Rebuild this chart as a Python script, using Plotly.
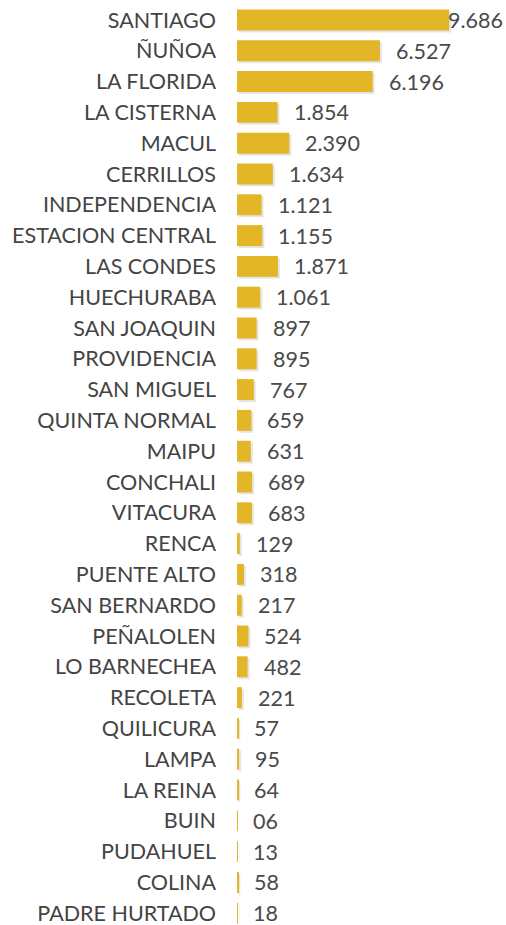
import plotly.graph_objects as go

comunas = ["SANTIAGO", "ÑUÑOA", "LA FLORIDA", "LA CISTERNA", "MACUL", "CERRILLOS",
           "INDEPENDENCIA", "ESTACION CENTRAL", "LAS CONDES", "HUECHURABA", "SAN JOAQUIN",
           "PROVIDENCIA", "SAN MIGUEL", "QUINTA NORMAL", "MAIPU", "CONCHALI", "VITACURA",
           "RENCA", "PUENTE ALTO", "SAN BERNARDO", "PEÑALOLEN", "LO BARNECHEA", "RECOLETA",
           "QUILICURA", "LAMPA", "LA REINA", "BUIN", "PUDAHUEL", "COLINA", "PADRE HURTADO"]
valores = [9686, 6527, 6196, 1854, 2390, 1634, 1121, 1155, 1871, 1061, 897, 895, 767,
           659, 631, 689, 683, 129, 318, 217, 524, 482, 221, 57, 95, 64, 6, 13, 58, 18]
etiquetas = ["9.686", "6.527", "6.196", "1.854", "2.390", "1.634", "1.121", "1.155",
             "1.871", "1.061", "897", "895", "767", "659", "631", "689", "683", "129",
             "318", "217", "524", "482", "221", "57", "95", "64", "06", "13", "58", "18"]

GOLD = "#E3B627"
FONT = "Lato, 'Open Sans', sans-serif"
FS = 21.5

X_MAX = 12283
Y_RANGE = [29.383, -0.649]
PX_X = X_MAX / 269.0      # data units per pixel (x)
PX_Y = 30.8               # pixels per category (y)
SH = 2.0                  # shadow offset, px

fig = go.Figure()
# soft drop shadow (main axes, shifted ranges)
fig.add_trace(go.Bar(
    x=valores, y=comunas, orientation="h", xaxis="x", yaxis="y",
    marker=dict(color="rgba(0,0,0,0.10)", line=dict(width=0)),
    hoverinfo="skip",
))
# real bars (overlay axes)
fig.add_trace(go.Bar(
    x=valores, y=comunas, orientation="h", xaxis="x2", yaxis="y2",
    marker=dict(color=GOLD, line=dict(width=0)),
    hoverinfo="x+y",
))

vmax = max(valores)
for c, v, t in zip(comunas, valores, etiquetas):
    fig.add_annotation(
        x=v, y=c, xref="x2", yref="y2", text=t, showarrow=False,
        xanchor="left", yanchor="middle",
        xshift=-3 if v == vmax else 14,
        font=dict(family=FONT, size=FS, color="#4a4a4a"),
    )

fig.update_layout(
    width=506, height=925,
    margin=dict(l=237, r=0, t=0, b=0),
    paper_bgcolor="white", plot_bgcolor="white",
    bargap=0.32, showlegend=False,
    font=dict(family=FONT, size=FS, color="#444444"),
    xaxis=dict(range=[-SH * PX_X, X_MAX - SH * PX_X], visible=False,
               showgrid=False, zeroline=False),
    yaxis=dict(categoryorder="array", categoryarray=comunas,
               range=[Y_RANGE[0] - SH / PX_Y, Y_RANGE[1] - SH / PX_Y],
               visible=False, showgrid=False, zeroline=False),
    xaxis2=dict(range=[0, X_MAX], overlaying="x", visible=False,
                showgrid=False, zeroline=False),
    yaxis2=dict(categoryorder="array", categoryarray=comunas, overlaying="y",
                side="left", range=Y_RANGE, showgrid=False, zeroline=False,
                showline=False, ticks="", ticklabelstandoff=20,
                tickfont=dict(family=FONT, size=FS, color="#444444")),
)

fig.write_html(
    "out.html",
    config={"displayModeBar": False},
    post_script="document.body.style.margin='0';document.body.style.overflow='hidden';",
)
